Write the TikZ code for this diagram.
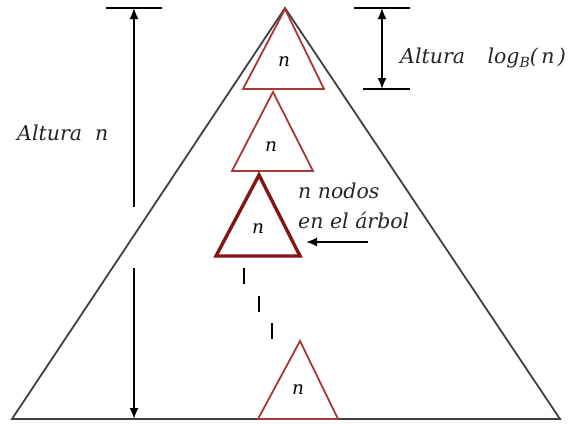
\documentclass[tikz,border=0pt]{standalone}
\usepackage{fontspec}
\setmainfont{DejaVu Serif}
\usetikzlibrary{arrows.meta}
\definecolor{trired}{RGB}{170,55,55}
\definecolor{tridark}{RGB}{135,20,20}
\begin{document}
\begin{tikzpicture}[x=1pt,y=-1pt,
  bigtri/.style={draw=black!75,line width=1.8pt,line join=miter},
  subtri/.style={draw=trired,line width=1.8pt,line join=miter},
  subtrithick/.style={draw=tridark,line width=3.4pt,line join=miter},
  dim/.style={draw=black,line width=1.8pt},
  dimarrow/.style={dim,-{Latex[length=11pt,width=9pt]}},
  lbl/.style={font=\fontsize{20.5}{24}\selectfont\itshape,inner sep=0pt,text=black!85},
  nlbl/.style={font=\fontsize{18.5}{20}\selectfont\itshape,inner sep=0pt},
  dashmark/.style={draw=black,line width=1.8pt}]
\useasboundingbox (0,0) rectangle (572,423);
\fill[white] (0,0) rectangle (572,423);
% big tree
\coordinate (apex) at (285,8);
\coordinate (bl) at (12,419);
\coordinate (br) at (560,419);
\draw[bigtri] (apex) -- (bl) -- (br) -- cycle;
% sub-triangles
\coordinate (t1a) at (285,9); \coordinate (t1l) at (243,89); \coordinate (t1r) at (324,89);
\draw[subtri] (t1a) -- (t1l) -- (t1r) -- cycle;
\node[nlbl] (n1) at (284,62) {n};
\coordinate (t2a) at (273,92); \coordinate (t2l) at (232,171); \coordinate (t2r) at (313,171);
\draw[subtri] (t2a) -- (t2l) -- (t2r) -- cycle;
\node[nlbl] (n2) at (271,147) {n};
\coordinate (t3a) at (259,175); \coordinate (t3l) at (216,256); \coordinate (t3r) at (300,256);
\draw[subtrithick] (t3a) -- (t3l) -- (t3r) -- cycle;
\node[nlbl] (n3) at (258,229) {n};
\coordinate (t4a) at (300,341); \coordinate (t4l) at (258,419); \coordinate (t4r) at (338,419);
\draw[subtri] (t4a) -- (t4l) -- (t4r) -- cycle;
\node[nlbl] (n4) at (298,390) {n};
% dashes
\coordinate (d1a) at (244,268); \coordinate (d1b) at (244,284);
\coordinate (d2a) at (259,296); \coordinate (d2b) at (259,312);
\coordinate (d3a) at (272,323); \coordinate (d3b) at (272,339);
\draw[dashmark] (d1a) -- (d1b);
\draw[dashmark] (d2a) -- (d2b);
\draw[dashmark] (d3a) -- (d3b);
% left dimension
\coordinate (lbarl) at (106,8); \coordinate (lbarr) at (162,8);
\draw[dim] (lbarl) -- (lbarr);
\coordinate (ltop) at (134,8); \coordinate (lgap1) at (134,207);
\coordinate (lgap2) at (134,268); \coordinate (lbot) at (134,419);
\draw[dimarrow] (lgap1) -- (ltop);
\draw[dimarrow] (lgap2) -- (lbot);
\node[lbl,anchor=base west] (altn) at (17,140) {Altura\ \ n};
% right dimension
\coordinate (rbar1l) at (354,8); \coordinate (rbar1r) at (410,8);
\coordinate (rbar2l) at (363,89); \coordinate (rbar2r) at (410,89);
\draw[dim] (rbar1l) -- (rbar1r);
\draw[dim] (rbar2l) -- (rbar2r);
\coordinate (rtop) at (382,8); \coordinate (rbot) at (382,89);
\draw[dim,{Latex[length=11pt,width=9pt]}-{Latex[length=11pt,width=9pt]}] (rtop) -- (rbot);
\node[lbl,anchor=base west] (altlog) at (400,63) {Altura\hspace{1.1em}log\raisebox{-0.45ex}{\fontsize{14}{14}\selectfont B}(\,n\,)};
% n nodos label
\node[lbl,anchor=base west] (nn1) at (298,198) {n nodos};
\node[lbl,anchor=base west] (nn2) at (298,228) {en el árbol};
\coordinate (arrs) at (368,242); \coordinate (arre) at (306,242);
\draw[dimarrow] (arrs) -- (arre);
\end{tikzpicture}
\end{document}
